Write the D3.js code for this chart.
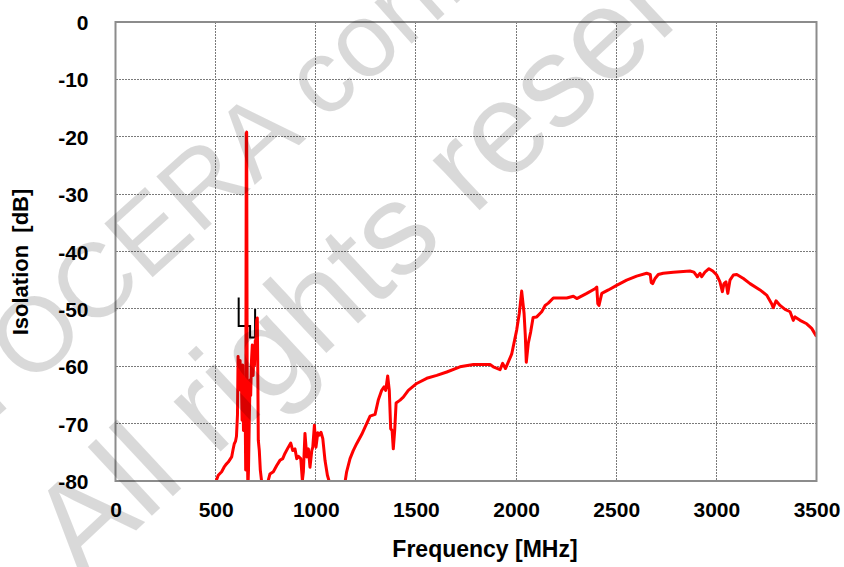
<!DOCTYPE html>
<html>
<head>
<meta charset="utf-8">
<script src="https://cdn.jsdelivr.net/npm/d3@7"></script>
<style>
    body { margin: 0; background: #fff; }
    text { font-family: Arial, "Liberation Sans", sans-serif; }
</style>
</head>
<body>
<div id="chart"></div>
<script>
// Measured isolation curve (MHz, dB). Values below -80 run off the plot.
var freqMHz = [
    470, 497, 513, 530, 542, 552, 563, 580, 587, 593, 599, 604, 609, 612, 615, 618,
    622, 625, 628, 632, 635, 639, 643, 647, 650, 653, 655, 658, 661, 664, 668, 672,
    675, 679, 683, 687, 691, 694, 698, 701, 705, 708, 710, 713, 718, 723, 730, 736,
    751, 761, 771, 788, 805, 821, 835, 846, 863, 875, 885, 896, 905, 913, 925, 933,
    938, 946, 955, 963, 971, 980, 985, 993, 1001, 1010, 1018, 1026, 1035, 1046, 1058, 1068,
    1076, 1136, 1146, 1154, 1171, 1187, 1204, 1229, 1246, 1271, 1296, 1312, 1329, 1341, 1349, 1359,
    1367, 1374, 1381, 1387, 1394, 1401, 1421, 1437, 1462, 1504, 1554, 1604, 1654, 1720, 1787, 1836,
    1870, 1886, 1920, 1933, 1947, 1961, 1978, 2003, 2016, 2028, 2040, 2046, 2051, 2061, 2073, 2085,
    2103, 2128, 2145, 2161, 2186, 2253, 2286, 2303, 2353, 2394, 2403, 2408, 2414, 2428, 2461, 2502,
    2552, 2602, 2652, 2670, 2675, 2682, 2694, 2710, 2735, 2785, 2868, 2888, 2905, 2918, 2927, 2943,
    2963, 2982, 3002, 3018, 3030, 3038, 3048, 3057, 3068, 3085, 3102, 3135, 3168, 3218, 3251, 3276,
    3284, 3298, 3318, 3343, 3368, 3384, 3393, 3418, 3451, 3476, 3500
];
var isolationDb = [
    -84, -80.5, -79.0, -78.4, -77.6, -77.1, -76.7, -75.8, -74.5, -73.5, -73.1, -72.2, -68.5, -58.3, -61.6, -63.7,
    -59.0, -64.2, -60.7, -69.4, -59.8, -71.2, -62.4, -65.9, -78.1, -19.4, -19.2, -72.9, -81.6, -78.1, -69.4, -62.4,
    -65.1, -59.0, -56.3, -61.6, -58.1, -59.8, -55.5, -56.3, -52.0, -51.6, -59.0, -72.9, -74.7, -78.1, -80.2, -82.5,
    -81.6, -80.1, -78.8, -78.4, -77.3, -76.4, -76.1, -75.2, -74.1, -73.4, -74.7, -74.4, -76.1, -75.7, -76.1, -79.9,
    -78.4, -71.7, -75.8, -74.4, -77.6, -74.7, -74.1, -70.3, -74.1, -71.6, -72.0, -71.5, -72.6, -76.4, -79.0, -80.2,
    -82, -82, -80.2, -78.4, -76.1, -74.7, -73.5, -71.9, -70.6, -68.7, -68.4, -65.9, -64.2, -63.6, -64.2, -61.7,
    -64.2, -70.9, -71.2, -74.4, -71.2, -66.4, -65.9, -65.4, -64.2, -63.0, -62.1, -61.6, -61.0, -60.1, -59.7, -59.7,
    -59.7, -60.1, -60.6, -59.5, -60.4, -59.3, -57.9, -53.7, -50.8, -46.9, -50.8, -54.6, -59.3, -56.0, -54.0, -51.5,
    -51.4, -50.5, -49.4, -49.0, -48.1, -48.1, -47.8, -48.2, -47.3, -46.5, -46.2, -49.1, -49.4, -47.3, -46.7, -45.9,
    -45.0, -44.3, -43.8, -44.0, -45.4, -45.6, -44.7, -44.0, -43.8, -43.6, -43.4, -43.6, -44.4, -43.8, -44.4, -43.6,
    -43.0, -43.4, -44.1, -45.3, -47.0, -45.6, -45.3, -47.3, -45.0, -44.1, -44.0, -44.7, -45.6, -46.7, -47.6, -49.1,
    -49.8, -48.6, -49.4, -50.1, -50.5, -52.0, -51.4, -52.0, -52.6, -53.4, -54.8
];

// Spec mask drawn in black near the band edges.
var maskMHz = [615, 615, 672, 672, 697, 697];
var maskDb = [-48, -53, -53, -55, -55, -50];

var xTicks = [0, 500, 1000, 1500, 2000, 2500, 3000, 3500];
var yTicks = [0, -10, -20, -30, -40, -50, -60, -70, -80];

var watermarkLines = ["KYOCERA confidential", "All rights reserved"];

// Dimensions of the picture and plot area.
var width = 844;
var height = 567;
var plot = { left: 115.5, right: 816.5, top: 22, bottom: 481 };

var svg = d3.select("#chart")
    .append("svg")
    .attr("width", width)
    .attr("height", height);

var x = d3.scaleLinear().domain([0, 3500]).range([plot.left, plot.right]);
var y = d3.scaleLinear().domain([-80, 0]).range([plot.bottom, plot.top]);

svg.append("clipPath")
    .attr("id", "plot_clip")
    .append("rect")
    .attr("x", plot.left)
    .attr("y", plot.top)
    .attr("width", plot.right - plot.left)
    .attr("height", plot.bottom - plot.top);

// Grid lines
var grid = svg.append("g").attr("class", "grid");
grid.selectAll("line.vx")
    .data(xTicks.slice(1, -1))
    .enter().append("line")
    .attr("x1", function(d) { return x(d); })
    .attr("x2", function(d) { return x(d); })
    .attr("y1", plot.top)
    .attr("y2", plot.bottom);
grid.selectAll("line.hy")
    .data(yTicks.slice(1, -1))
    .enter().append("line")
    .attr("x1", plot.left)
    .attr("x2", plot.right)
    .attr("y1", function(d) { return y(d); })
    .attr("y2", function(d) { return y(d); });
grid.selectAll("line")
    .style("stroke", "#7a7a7a")
    .style("stroke-width", 1)
    .style("stroke-dasharray", "2,1")
    .attr("shape-rendering", "crispEdges");

// Mask, then the measured curve on top
var line = d3.line()
    .x(function(d) { return x(d[0]); })
    .y(function(d) { return y(d[1]); });

svg.append("path")
    .datum(d3.zip(maskMHz, maskDb))
    .attr("d", line)
    .attr("clip-path", "url(#plot_clip)")
    .style("fill", "none")
    .style("stroke", "#000")
    .style("stroke-width", 2);

svg.append("path")
    .datum(d3.zip(freqMHz, isolationDb))
    .attr("d", line)
    .attr("clip-path", "url(#plot_clip)")
    .style("fill", "none")
    .style("stroke", "#ff0000")
    .style("stroke-width", 3)
    .style("stroke-linejoin", "round");

// Plot frame
svg.append("rect")
    .attr("x", plot.left)
    .attr("y", plot.top)
    .attr("width", plot.right - plot.left)
    .attr("height", plot.bottom - plot.top)
    .style("fill", "none")
    .style("stroke", "#8c8c8c")
    .style("stroke-width", 2);

// Axes: labels only, ticks are the grid
var plain = function(d) { return String(d); };
var xAxis = svg.append("g")
    .attr("transform", "translate(0," + (plot.bottom + 36) + ")")
    .call(d3.axisBottom(x).tickValues(xTicks).tickFormat(plain).tickSize(0).tickPadding(0));
var yAxis = svg.append("g")
    .attr("transform", "translate(" + (plot.left - 27) + ",0)")
    .call(d3.axisLeft(y).tickValues(yTicks).tickFormat(plain).tickSize(0).tickPadding(0));

[xAxis, yAxis].forEach(function(ax) {
    ax.select(".domain").remove();
    ax.selectAll("text")
        .style("font-size", "21px")
        .style("font-weight", "bold")
        .style("fill", "#000");
});
xAxis.selectAll("text").attr("dy", 0);
yAxis.selectAll("text").attr("dy", "0.36em");

// Axis titles
svg.append("text")
    .attr("x", 485)
    .attr("y", 557)
    .attr("text-anchor", "middle")
    .style("font-size", "23px")
    .style("font-weight", "bold")
    .text("Frequency [MHz]");

svg.append("text")
    .attr("transform", "translate(28,262) rotate(-90)")
    .attr("text-anchor", "middle")
    .style("font-size", "22px")
    .style("font-weight", "bold")
    .style("white-space", "pre")
    .text("Isolation  [dB]");

// Watermark over everything
var wmStart = [[-75, 482], [82, 581]];
var wmSize = [105, 130];
var wmAngle = [-42, -43];
svg.append("g")
    .style("pointer-events", "none")
    .selectAll("text")
    .data(watermarkLines)
    .enter().append("text")
    .attr("transform", function(d, i) {
        return "translate(" + wmStart[i][0] + "," + wmStart[i][1] + ") rotate(" + wmAngle[i] + ")";
    })
    .style("font-size", function(d, i) { return wmSize[i] + "px"; })
    .style("fill", "#000")
    .style("fill-opacity", 0.15)
    .text(function(d) { return d; });
</script>
</body>
</html>
